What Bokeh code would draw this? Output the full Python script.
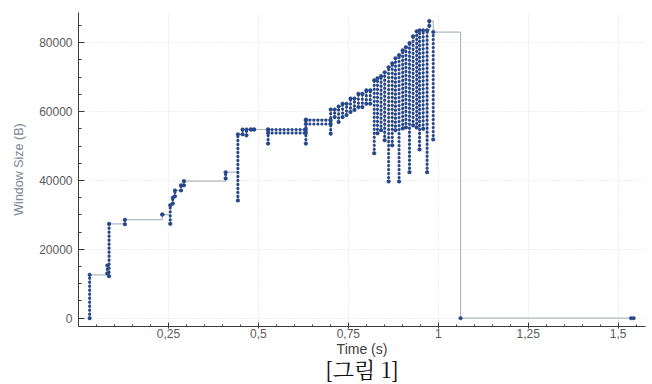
from bokeh.plotting import figure
from bokeh.models import FixedTicker, Title
from bokeh.embed import file_html
from bokeh.resources import INLINE
import numpy as np

# vertical runs of samples: time (s), lowest and highest window size (B)
COL_T = [0.031, 0.080, 0.085, 0.129, 0.233, 0.255, 0.262, 0.268, 0.285, 0.293,
         0.409, 0.443, 0.456, 0.467, 0.479, 0.488, 0.527, 0.632, 0.701, 0.712,
         0.723, 0.734, 0.745, 0.756, 0.767, 0.778, 0.789, 0.800, 0.811, 0.822,
         0.831, 0.841, 0.851, 0.862, 0.872, 0.881, 0.891, 0.901, 0.910, 0.920,
         0.930, 0.940, 0.948, 0.958, 0.969, 0.975, 0.986]
COL_LO = [0, 13000, 12200, 27300, 30100, 27400, 33300, 35400, 37100, 38600,
          40600, 34200, 53400, 53100, 54800, 54800, 50700, 50700, 53600, 58400,
          57000, 58400, 59000, 59900, 60500, 61300, 61300, 62300, 62300, 47900,
          53700, 54600, 51700, 39700, 50200, 54600, 39700, 55100, 55400, 42400,
          56000, 55400, 49000, 55000, 42400, 84900, 51900]
COL_HI = [12600, 15300, 27400, 28600, 30100, 32800, 35000, 37100, 38600, 39800,
          42400, 53400, 54800, 54800, 54800, 54800, 54800, 57700, 60600, 60600,
          61500, 62300, 62300, 63800, 63800, 65200, 65200, 66200, 66200, 69100,
          69700, 70300, 71400, 72900, 74000, 75500, 76400, 77800, 78700, 79900,
          81900, 83300, 83600, 83600, 83600, 86300, 83100]

# horizontal runs of samples: start time, end time, window size (B)
ROW_T0 = [0.527, 0.527, 0.632, 0.632]
ROW_T1 = [0.632, 0.632, 0.701, 0.701]
ROW_W = [54800, 53800, 57500, 56400]

# samples after the burst
TAIL_T = [1.062, 1.536, 1.543]
TAIL_W = [0, 0, 0]

X_TICKS = [0.25, 0.5, 0.75, 1.0, 1.25, 1.5]
X_TICK_LABELS = ["0,25", "0,5", "0,75", "1", "1,25", "1,5"]
Y_TICKS = [0, 20000, 40000, 60000, 80000]

DOT = "#26468a"
LINE = "#b2b8c2"

# step path through all samples
step_t, step_w = [], []
for t, lo, hi in zip(COL_T, COL_LO, COL_HI):
    step_t += [t, t]
    step_w += [lo, hi]
step_t += TAIL_T
step_w += TAIL_W

pt_t = list(step_t) + ROW_T0 + ROW_T1
pt_w = list(step_w) + ROW_W + ROW_W

p = figure(width=652, height=384, x_range=(0, 1.576), y_range=(-2413, 88780),
           output_backend="svg", toolbar_location=None,
           min_border_left=78, min_border_top=12, min_border_right=7, min_border_bottom=58)
p.outline_line_color = None
p.background_fill_color = "white"

p.xaxis.ticker = FixedTicker(ticks=X_TICKS, minor_ticks=list(np.round(np.arange(0.05, 1.58, 0.05), 3)))
p.xaxis.major_label_overrides = {t: l for t, l in zip(X_TICKS, X_TICK_LABELS)}
p.yaxis.ticker = FixedTicker(ticks=Y_TICKS, minor_ticks=list(range(0, 90000, 5000)))
p.xgrid.ticker = FixedTicker(ticks=X_TICKS)
p.ygrid.ticker = FixedTicker(ticks=Y_TICKS)
for g in (p.xgrid, p.ygrid):
    g.grid_line_color = "#dedede"
    g.grid_line_dash = "1 2"
    g.grid_line_width = 1

for ax in (p.xaxis, p.yaxis):
    ax.axis_line_color = "#3a3a3a"
    ax.major_tick_line_color = "#3a3a3a"
    ax.minor_tick_line_color = "#3a3a3a"
    ax.major_label_text_font = "Liberation Sans"
    ax.major_label_text_font_size = "12px"
    ax.major_label_text_color = "#5a5a5a"
    ax.axis_label_text_font = "Liberation Sans"
    ax.axis_label_text_font_style = "normal"

p.xaxis.major_tick_in = 4
p.xaxis.major_tick_out = 2
p.xaxis.minor_tick_in = 2
p.xaxis.minor_tick_out = 0
p.xaxis.major_label_standoff = 0
p.xaxis.axis_label = "Time (s)"
p.xaxis.axis_label_text_font_size = "14px"
p.xaxis.axis_label_text_color = "#404040"
p.xaxis.axis_label_standoff = 0

p.yaxis.major_tick_in = 6
p.yaxis.major_tick_out = 0
p.yaxis.minor_tick_in = 3
p.yaxis.minor_tick_out = 0
p.yaxis.major_label_standoff = 6
p.yaxis.axis_label = "Window Size (B)"
p.yaxis.axis_label_text_font_size = "12.5px"
p.yaxis.axis_label_text_color = "#7b8794"
p.yaxis.axis_label_standoff = 10

p.step(x=step_t, y=step_w, mode="after", line_color=LINE, line_width=1.2)
p.segment(x0=COL_T, y0=COL_LO, x1=COL_T, y1=COL_HI, line_color=DOT,
          line_width=3.2, line_dash="0 4", line_cap="round")
p.segment(x0=ROW_T0, y0=ROW_W, x1=ROW_T1, y1=ROW_W, line_color=DOT,
          line_width=3.2, line_dash="0 4", line_cap="round")
p.scatter(x=pt_t, y=pt_w, size=3.6, fill_color=DOT, line_color=DOT, line_width=0.5)

p.add_layout(Title(text="[그림 1]", align="center", text_font="Noto Serif CJK KR",
                   text_font_size="22px", text_font_style="normal", text_color="#111111",
                   vertical_align="top", standoff=-13), "below")

open("out.html", "w").write(file_html(p, INLINE))
